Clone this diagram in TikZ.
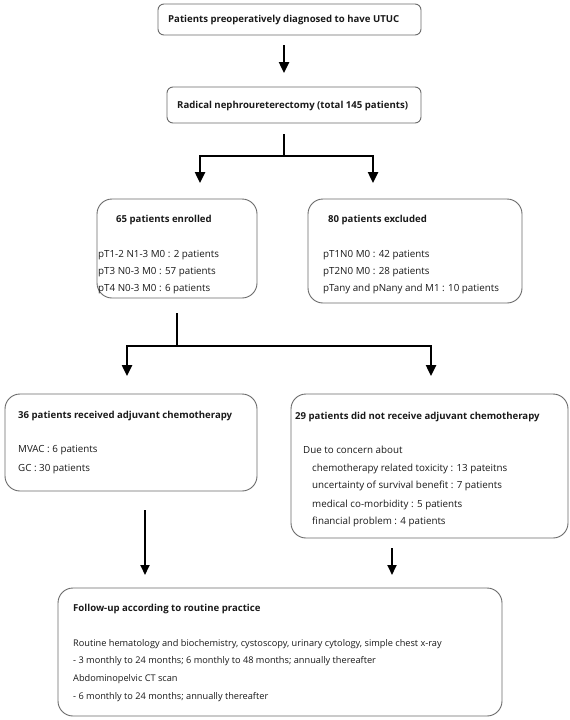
\documentclass[tikz,border=0pt]{standalone}
\usepackage{fontspec}
\setmainfont{Open Sans}
\usetikzlibrary{arrows.meta}
\definecolor{boxgray}{HTML}{6A6A6A}
\definecolor{txt}{HTML}{1A1A1A}
\tikzset{
  x=1pt, y=-1pt,
  box/.style={draw=boxgray, line width=0.9pt, anchor=north west, inner sep=0pt, outer sep=0pt},
  tx/.style={anchor=base west, inner sep=0pt, text=txt, font=\fontsize{9.8}{12}\selectfont},
  txs/.style={anchor=base west, inner sep=0pt, text=txt, font=\fontsize{9.2}{11}\selectfont},
  ttl/.style={anchor=base west, inner sep=0pt, text=txt, font=\fontsize{9.6}{11}\selectfont\bfseries},
  bigarr/.style={line width=2.4pt, -{Triangle[length=11pt,width=10pt]}},
  bigln/.style={line width=2.4pt},
  smarr/.style={line width=1.8pt, -{Triangle[length=10pt,width=9pt]}}
}
\begin{document}
\begin{tikzpicture}
\useasboundingbox (0,0) rectangle (570,720);
\fill[white] (0,0) rectangle (570,720);
% boxes
\node[box, rounded corners=6pt, minimum width=263pt, minimum height=31pt] (b1) at (158,4) {};
\node[box, rounded corners=6pt, minimum width=254pt, minimum height=36pt] (b2) at (167,87) {};
\node[box, rounded corners=15pt, minimum width=160pt, minimum height=99pt] (b3) at (97,199) {};
\node[box, rounded corners=15pt, minimum width=214pt, minimum height=104pt] (b4) at (308,199) {};
\node[box, rounded corners=15pt, minimum width=252pt, minimum height=97pt] (b5) at (5,394) {};
\node[box, rounded corners=15pt, minimum width=277pt, minimum height=144pt] (b6) at (291,394) {};
\node[box, rounded corners=15pt, minimum width=444pt, minimum height=128pt] (b7) at (58,588) {};
% texts
\node[ttl] (t1) at (168,23) {Patients preoperatively diagnosed to have UTUC};
\node[ttl] (t2) at (177,108) {Radical nephroureterectomy (total 145 patients)};
\node[ttl] (t3) at (116,222) {65 patients enrolled};
\node[tx] (t3a) at (98,257) {pT1-2 N1-3 M0 : 2 patients};
\node[tx] (t3b) at (98,274) {pT3 N0-3 M0 : 57 patients};
\node[tx] (t3c) at (98,291) {pT4 N0-3 M0 : 6 patients};
\node[ttl] (t4) at (328,222) {80 patients excluded};
\node[tx] (t4a) at (323,257) {pT1N0 M0 : 42 patients};
\node[tx] (t4b) at (323,274) {pT2N0 M0 : 28 patients};
\node[tx] (t4c) at (323,291) {pTany and pNany and M1 : 10 patients};
\node[ttl] (t5) at (18,418) {36 patients received adjuvant chemotherapy};
\node[tx] (t5a) at (18,452) {MVAC : 6 patients};
\node[tx] (t5b) at (18,471) {GC : 30 patients};
\node[ttl] (t6) at (295,419) {29 patients did not receive adjuvant chemotherapy};
\node[tx] (t6a) at (303,453) {Due to concern about};
\node[tx] (t6b) at (312,471) {chemotherapy related toxicity : 13 pateitns};
\node[tx] (t6c) at (312,488) {uncertainty of survival benefit : 7 patients};
\node[tx] (t6d) at (312,507) {medical co-morbidity : 5 patients};
\node[tx] (t6e) at (312,524) {financial problem : 4 patients};
\node[ttl] (t7) at (73,611) {Follow-up according to routine practice};
\node[txs] (t7a) at (73,646) {Routine hematology and biochemistry, cystoscopy, urinary cytology, simple chest x-ray};
\node[txs] (t7b) at (73,663) {- 3 monthly to 24 months; 6 monthly to 48 months; annually thereafter};
\node[txs] (t7c) at (73,681) {Abdominopelvic CT scan};
\node[txs] (t7d) at (73,699) {- 6 monthly to 24 months; annually thereafter};
% connector coordinates
\coordinate (a1s) at (284,45);
\coordinate (a1e) at (284,73);
\coordinate (j1s) at (284,134);
\coordinate (j1) at (284,156);
\coordinate (j1l) at (200,156);
\coordinate (j1r) at (373,156);
\coordinate (j1le) at (200,183);
\coordinate (j1re) at (373,183);
\coordinate (j2s) at (177,313);
\coordinate (j2) at (177,346);
\coordinate (j2l) at (127,346);
\coordinate (j2r) at (431,346);
\coordinate (j2le) at (127,376);
\coordinate (j2re) at (431,376);
\coordinate (a5s) at (145,510);
\coordinate (a5e) at (145,575);
\coordinate (a6s) at (392,548);
\coordinate (a6e) at (392,575);
% connectors
\draw[bigarr] (a1s) -- (a1e);
\draw[bigln] (j1s) -- (j1);
\draw[bigarr] (j1) -- (j1l) -- (j1le);
\draw[bigarr] (j1) -- (j1r) -- (j1re);
\draw[bigln] (j2s) -- (j2);
\draw[bigarr] (j2) -- (j2l) -- (j2le);
\draw[bigarr] (j2) -- (j2r) -- (j2re);
\draw[smarr] (a5s) -- (a5e);
\draw[smarr] (a6s) -- (a6e);
\end{tikzpicture}
\end{document}
